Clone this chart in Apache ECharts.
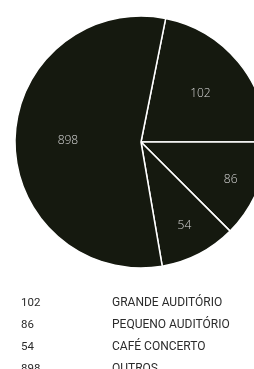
<!DOCTYPE html>
<html>
<head>
<meta charset="utf-8">
<script src="https://cdn.jsdelivr.net/npm/echarts@6/dist/echarts.min.js"></script>
<style>
  html, body { margin: 0; padding: 0; background: #fff; }
  #venues { width: 254px; height: 369px; }
</style>
</head>
<body>
<div id="venues"></div>
<script>
// categories and values as printed
const names = ['GRANDE AUDITÓRIO', 'PEQUENO AUDITÓRIO', 'CAFÉ CONCERTO', 'OUTROS'];
const values = [102, 86, 54, 898];
// the slices in the picture are not drawn to scale: sweep in degrees read off it
const sweep = [78.7, 45, 35.3, 201];
// how far out each inside label sits (share of radius)
const labelRadius = [0.61, 0.77, 0.75, 0.58];

const cx = 141, cy = 142, R = 126;
const startOffset = 11.3; // first cut, degrees clockwise from 12 o'clock

// mid angle of each slice, for the label placement
const midAngle = [];
let acc = startOffset;
for (let i = 0; i < sweep.length; i++) {
    midAngle.push(acc + sweep[i] / 2);
    acc += sweep[i];
}

const chart = echarts.init(document.getElementById('venues'));

const option = {
    animation: false,
    legend: {
        orient: 'vertical',
        left: 11,
        top: 292,
        height: 140,
        icon: 'none',
        itemWidth: 0,
        itemHeight: 12,
        itemGap: 10,
        selectedMode: false,
        data: names,
        formatter: function (name) {
            const i = names.indexOf(name);
            return '{v|' + values[i] + '}{n|' + name + '}';
        },
        textStyle: {
            fontFamily: 'Roboto',
            fontSize: 12,
            color: '#2b2b2b',
            rich: {
                v: { width: 91, fontFamily: 'Roboto', fontSize: 11.5, color: '#2b2b2b' },
                n: { fontFamily: 'Roboto', fontSize: 12, color: '#2b2b2b' }
            }
        }
    },
    series: [
        {
            type: 'pie',
            center: [cx, cy],
            radius: R,
            startAngle: 90 - startOffset,
            clockwise: true,
            silent: true,
            itemStyle: {
                color: '#15190f',
                borderColor: '#ffffff',
                borderWidth: 1.5
            },
            label: {
                show: true,
                position: 'inside',
                fontFamily: 'Open Sans',
                fontSize: 12,
                fontWeight: 300,
                color: '#d6d6d6',
                formatter: function (p) { return values[p.dataIndex]; }
            },
            labelLayout: function (p) {
                const i = p.dataIndex;
                const a = midAngle[i] * Math.PI / 180;
                return {
                    x: cx + labelRadius[i] * R * Math.sin(a),
                    y: cy - labelRadius[i] * R * Math.cos(a),
                    align: 'center',
                    verticalAlign: 'middle'
                };
            },
            data: names.map((n, i) => ({ name: n, value: sweep[i] }))
        }
    ]
};

chart.setOption(option);
</script>
</body>
</html>
